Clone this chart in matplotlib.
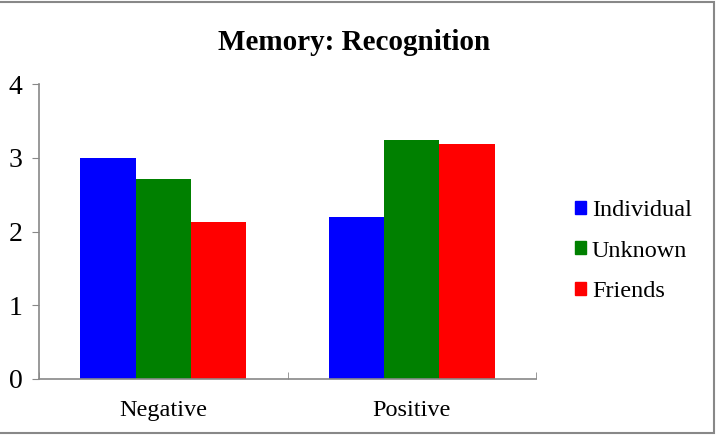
import matplotlib
matplotlib.use("Agg")
import matplotlib.pyplot as plt
import numpy as np
from matplotlib.patches import Rectangle, Patch

categories = ["Negative", "Positive"]
series = ["Individual", "Unknown", "Friends"]
individual = [3.00, 2.20]
unknown = [2.71, 3.24]
friends = [2.13, 3.19]
colors = ["#0000ff", "#008000", "#ff0000"]
title = "Memory: Recognition"

plt.rcParams["font.family"] = ["Liberation Serif", "DejaVu Serif"]

W, H = 716, 436
fig = plt.figure(figsize=(W / 100, H / 100), dpi=100)
ax = fig.add_axes([39 / W, 1 - 379 / H, (536 - 39) / W, (379 - 84) / H])

x = np.arange(len(categories))
bw = 0.67 / 3
for i, (vals, c, name) in enumerate(zip([individual, unknown, friends], colors, series)):
    ax.bar(x + (i - 1) * bw, vals, bw, color=c, label=name, edgecolor="none")

ax.set_xlim(-0.5, 1.5)
ax.set_ylim(0, 4)
ax.set_yticks([0, 1, 2, 3, 4])
ax.set_xticks(x)
ax.set_xticklabels(categories, fontsize=17.5)
ax.set_xticks([-0.5, 0.5, 1.5], minor=True)
ax.tick_params(axis="x", which="major", length=0, pad=15)
ax.tick_params(axis="x", which="minor", length=5, direction="in", color="#888888")
ax.tick_params(axis="y", length=5, direction="out", color="#888888", labelsize=20, pad=7)
for s in ["top", "right"]:
    ax.spines[s].set_visible(False)
for s in ["left", "bottom"]:
    ax.spines[s].set_color("#888888")
    ax.spines[s].set_linewidth(1.2)

fig.text(354 / W, 1 - 42 / H, title, ha="center", va="center", fontsize=21, fontweight="bold")

handles = [Patch(color=c) for c in colors]
fig.legend(handles, series, loc="center left", bbox_to_anchor=(553 / W, 1 - 251 / H),
           frameon=False, fontsize=17.5, handlelength=0.45, handleheight=0.45,
           handletextpad=0.25, labelspacing=0.8)

fig.add_artist(Rectangle((-3 / W, 3 / H), (714 + 3) / W, (H - 5) / H, transform=fig.transFigure,
                         fill=False, edgecolor="#888888", linewidth=1.5))

fig.savefig("out.png", dpi=100)
